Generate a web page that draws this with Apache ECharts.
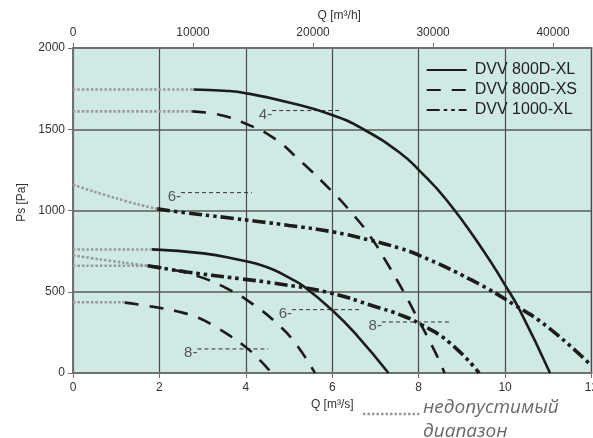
<!DOCTYPE html>
<html><head><meta charset="utf-8">
<script src="https://cdn.jsdelivr.net/npm/echarts@6/dist/echarts.min.js"></script>
<style>html,body{margin:0;padding:0;background:#fff}#c{width:593px;height:438px}</style>
</head><body><div id="c"></div>
<script>
// ---- data (Q in m3/s, Ps in Pa) ----
const xl4Q = [2.79, 3.5, 4, 5, 6, 6.72, 7.57, 8, 8.65, 9.49, 10, 10.34, 11.04];
const xl4P = [1745, 1737, 1722, 1665, 1588, 1500, 1354, 1250, 1063, 756, 541, 387, 0];
const xs4Q = [2.76, 3.4, 4, 4.65, 5.2, 6, 6.45, 6.87, 7.26, 7.64, 7.9, 8.38, 8.6];
const xs4P = [1610, 1588, 1534, 1445, 1320, 1116, 985, 845, 680, 505, 375, 130, 0];
const big6Q = [1.95, 2.64, 3.5, 4.33, 5, 6, 6.87, 7.57, 8, 9.23, 10.23, 11, 12];
const big6P = [1010, 985, 958, 931, 908, 869, 818, 767, 726, 571, 417, 280, 45];
const xl6Q = [1.83, 3.02, 3.87, 4.25, 4.64, 5.03, 5.33, 6, 6.57, 7.3];
const xl6P = [761, 736, 695, 672, 635, 582, 535, 386, 232, 0];
const big8Q = [1.73, 2.64, 3.87, 4.64, 5.95, 6.95, 7.57, 8.03, 8.72, 9.4];
const big8P = [660, 622, 580, 553, 493, 412, 358, 302, 186, 0];
const xs6Q = [1.73, 2.3, 2.95, 3.6, 4.18, 4.72, 5.14, 5.6];
const xs6P = [660, 636, 590, 515, 420, 305, 185, 0];
const xs8Q = [1.2, 1.8, 2.4, 2.9, 3.29, 3.6, 3.98, 4.21, 4.6];
const xs8P = [433, 410, 380, 340, 285, 235, 163, 110, 0];

// inadmissible range (grey dotted) extensions
const extXL4Q = [0, 2.79], extXL4P = [1745, 1745];
const extXS4Q = [0, 2.76], extXS4P = [1610, 1610];
const extBig6Q = [0, 0.5, 1, 1.5, 1.95], extBig6P = [1160, 1115, 1075, 1038, 1010];
const extXL6Q = [0, 1.83], extXL6P = [760, 760];
const extBig8Q = [0, 0.6, 1.2, 1.73], extBig8P = [724, 700, 678, 660];
const extXS6Q = [0, 1.73], extXS6P = [660, 660];
const extXS8Q = [0, 1.2], extXS8P = [435, 435];

// pole annotations
const annotText = ['4-', '6-', '6-', '8-', '8-'];
const annotX0 = [4.61, 2.5, 5.07, 7.15, 2.88];
const annotX1 = [6.18, 4.14, 6.68, 8.72, 4.52];
const annotY = [1615, 1110, 390, 314, 148];

const legendNames = ['DVV 800D-XL', 'DVV 800D-XS', 'DVV 1000-XL'];
const xTicksTop = [0, 10000, 20000, 30000, 40000];

const zip = (a, b) => a.map((v, i) => [v, b[i]]);
const black = '#1c1c1c';
const solid = {color: black, width: 2.6, type: 'solid'};
const dashed = {color: black, width: 2.6, type: [14, 11]};
const dashDot = {color: black, width: 3.6, type: [13, 4, 3.5, 4, 3.5, 4]};
const dotted = {color: '#9a9a9a', width: 2.6, type: [2.5, 2]};

function curve(name, q, p, ls) {
  return {name, type: 'line', xAxisIndex: 0, data: zip(q, p), symbol: 'none', smooth: 0.5,
    lineStyle: ls, itemStyle: {color: black}, z: 3, silent: true};
}
function ext(q, p) {
  return {name: 'ext', type: 'line', data: zip(q, p), symbol: 'none', smooth: 0.3,
    lineStyle: dotted, z: 2, silent: true};
}

const series = [
  curve(legendNames[0], xl4Q, xl4P, solid),
  curve(legendNames[1], xs4Q, xs4P, dashed),
  curve(legendNames[2], big6Q, big6P, dashDot),
  curve(legendNames[0], xl6Q, xl6P, solid),
  curve(legendNames[2], big8Q, big8P, dashDot),
  curve(legendNames[1], xs6Q, xs6P, dashed),
  curve(legendNames[1], xs8Q, xs8P, dashed),
  ext(extXL4Q, extXL4P), ext(extXS4Q, extXS4P), ext(extBig6Q, extBig6P),
  ext(extXL6Q, extXL6P), ext(extBig8Q, extBig8P), ext(extXS6Q, extXS6P), ext(extXS8Q, extXS8P)
];
annotText.forEach((t, i) => {
  series.push({name: 'lead', type: 'line', data: [[annotX0[i], annotY[i]], [annotX1[i], annotY[i]]],
    symbol: 'none', lineStyle: {color: '#333', width: 1, type: [4, 3]}, z: 2, silent: true});
});
series.push({name: 'annot', type: 'scatter', symbolSize: 0, silent: true, z: 4,
  data: annotText.map((t, i) => ({value: [annotX0[i], annotY[i]], name: t})),
  label: {show: true, position: 'left', distance: 0, offset: [0, 4], formatter: p => p.name,
    fontSize: 15, color: '#333', fontFamily: 'Liberation Sans, Arial'}});

const axLine = {show: true, lineStyle: {color: '#707070', width: 2}};
const lbl = {fontSize: 12, color: '#333', fontFamily: 'Liberation Sans, Arial'};

const chart = echarts.init(document.getElementById('c'));
chart.setOption({
  animation: false,
  textStyle: {fontFamily: 'Liberation Sans, Arial'},
  grid: {left: 73, right: 1.5, top: 48, bottom: 65, show: true, backgroundColor: '#cfe9e4',
    borderColor: '#707070', borderWidth: 1.5, outerBoundsMode: 'none', containLabel: false},
  legend: {data: legendNames, right: 11, top: 57, orient: 'vertical', itemWidth: 40, itemHeight: 14,
    itemGap: 4, textStyle: {fontSize: 16, color: '#222', lineHeight: 14, padding: [0, 0, 0, 3]},
    selectedMode: false, itemStyle: {opacity: 0}},
  xAxis: [
    {type: 'value', position: 'bottom', min: 0, max: 12, interval: 2,
     name: 'Q [m³/s]', nameLocation: 'middle', nameGap: 21, nameTextStyle: lbl,
     axisLine: axLine, axisTick: {show: true, length: 5, lineStyle: {color: '#707070'}},
     axisLabel: Object.assign({margin: 9, formatter: v => String(v)}, lbl),
     splitLine: {show: true, lineStyle: {color: '#4a4a4a', width: 1.2}}},
    {type: 'value', position: 'top', min: 0, max: 43200, interval: 10000,
     name: 'Q [m³/h]', nameLocation: 'middle', nameGap: 24, nameTextStyle: Object.assign({padding: [0, 0, 0, 14]}, lbl),
     axisLine: axLine, axisTick: {show: true, length: 5, lineStyle: {color: '#707070'}},
     axisLabel: Object.assign({margin: 9, showMaxLabel: false,
       formatter: v => xTicksTop.includes(v) ? String(v) : ''}, lbl),
     splitLine: {show: false}}
  ],
  yAxis: {type: 'value', min: 0, max: 2000, interval: 500,
    name: 'Ps [Pa]', nameLocation: 'middle', nameGap: 45, nameTextStyle: Object.assign({padding: [0, 0, 0, 16]}, lbl),
    axisLine: axLine, axisTick: {show: true, length: 5, lineStyle: {color: '#707070'}},
    axisLabel: Object.assign({margin: 8, formatter: v => String(v)}, lbl),
    splitLine: {show: true, lineStyle: {color: '#5a5a5a', width: 1.5}}},
  series,
  graphic: [
    {type: 'line', shape: {x1: 363, y1: 414, x2: 420, y2: 414},
     style: {stroke: '#9a9a9a', lineWidth: 2.6, lineDash: [2.5, 2]}},
    {type: 'text', left: 423, top: 396,
     style: {text: 'недопустимый\nдиапазон', fill: '#6a6a6a', fontSize: 19, fontStyle: 'italic',
       fontFamily: 'Open Sans', lineHeight: 24}}
  ]
});
</script></body></html>
